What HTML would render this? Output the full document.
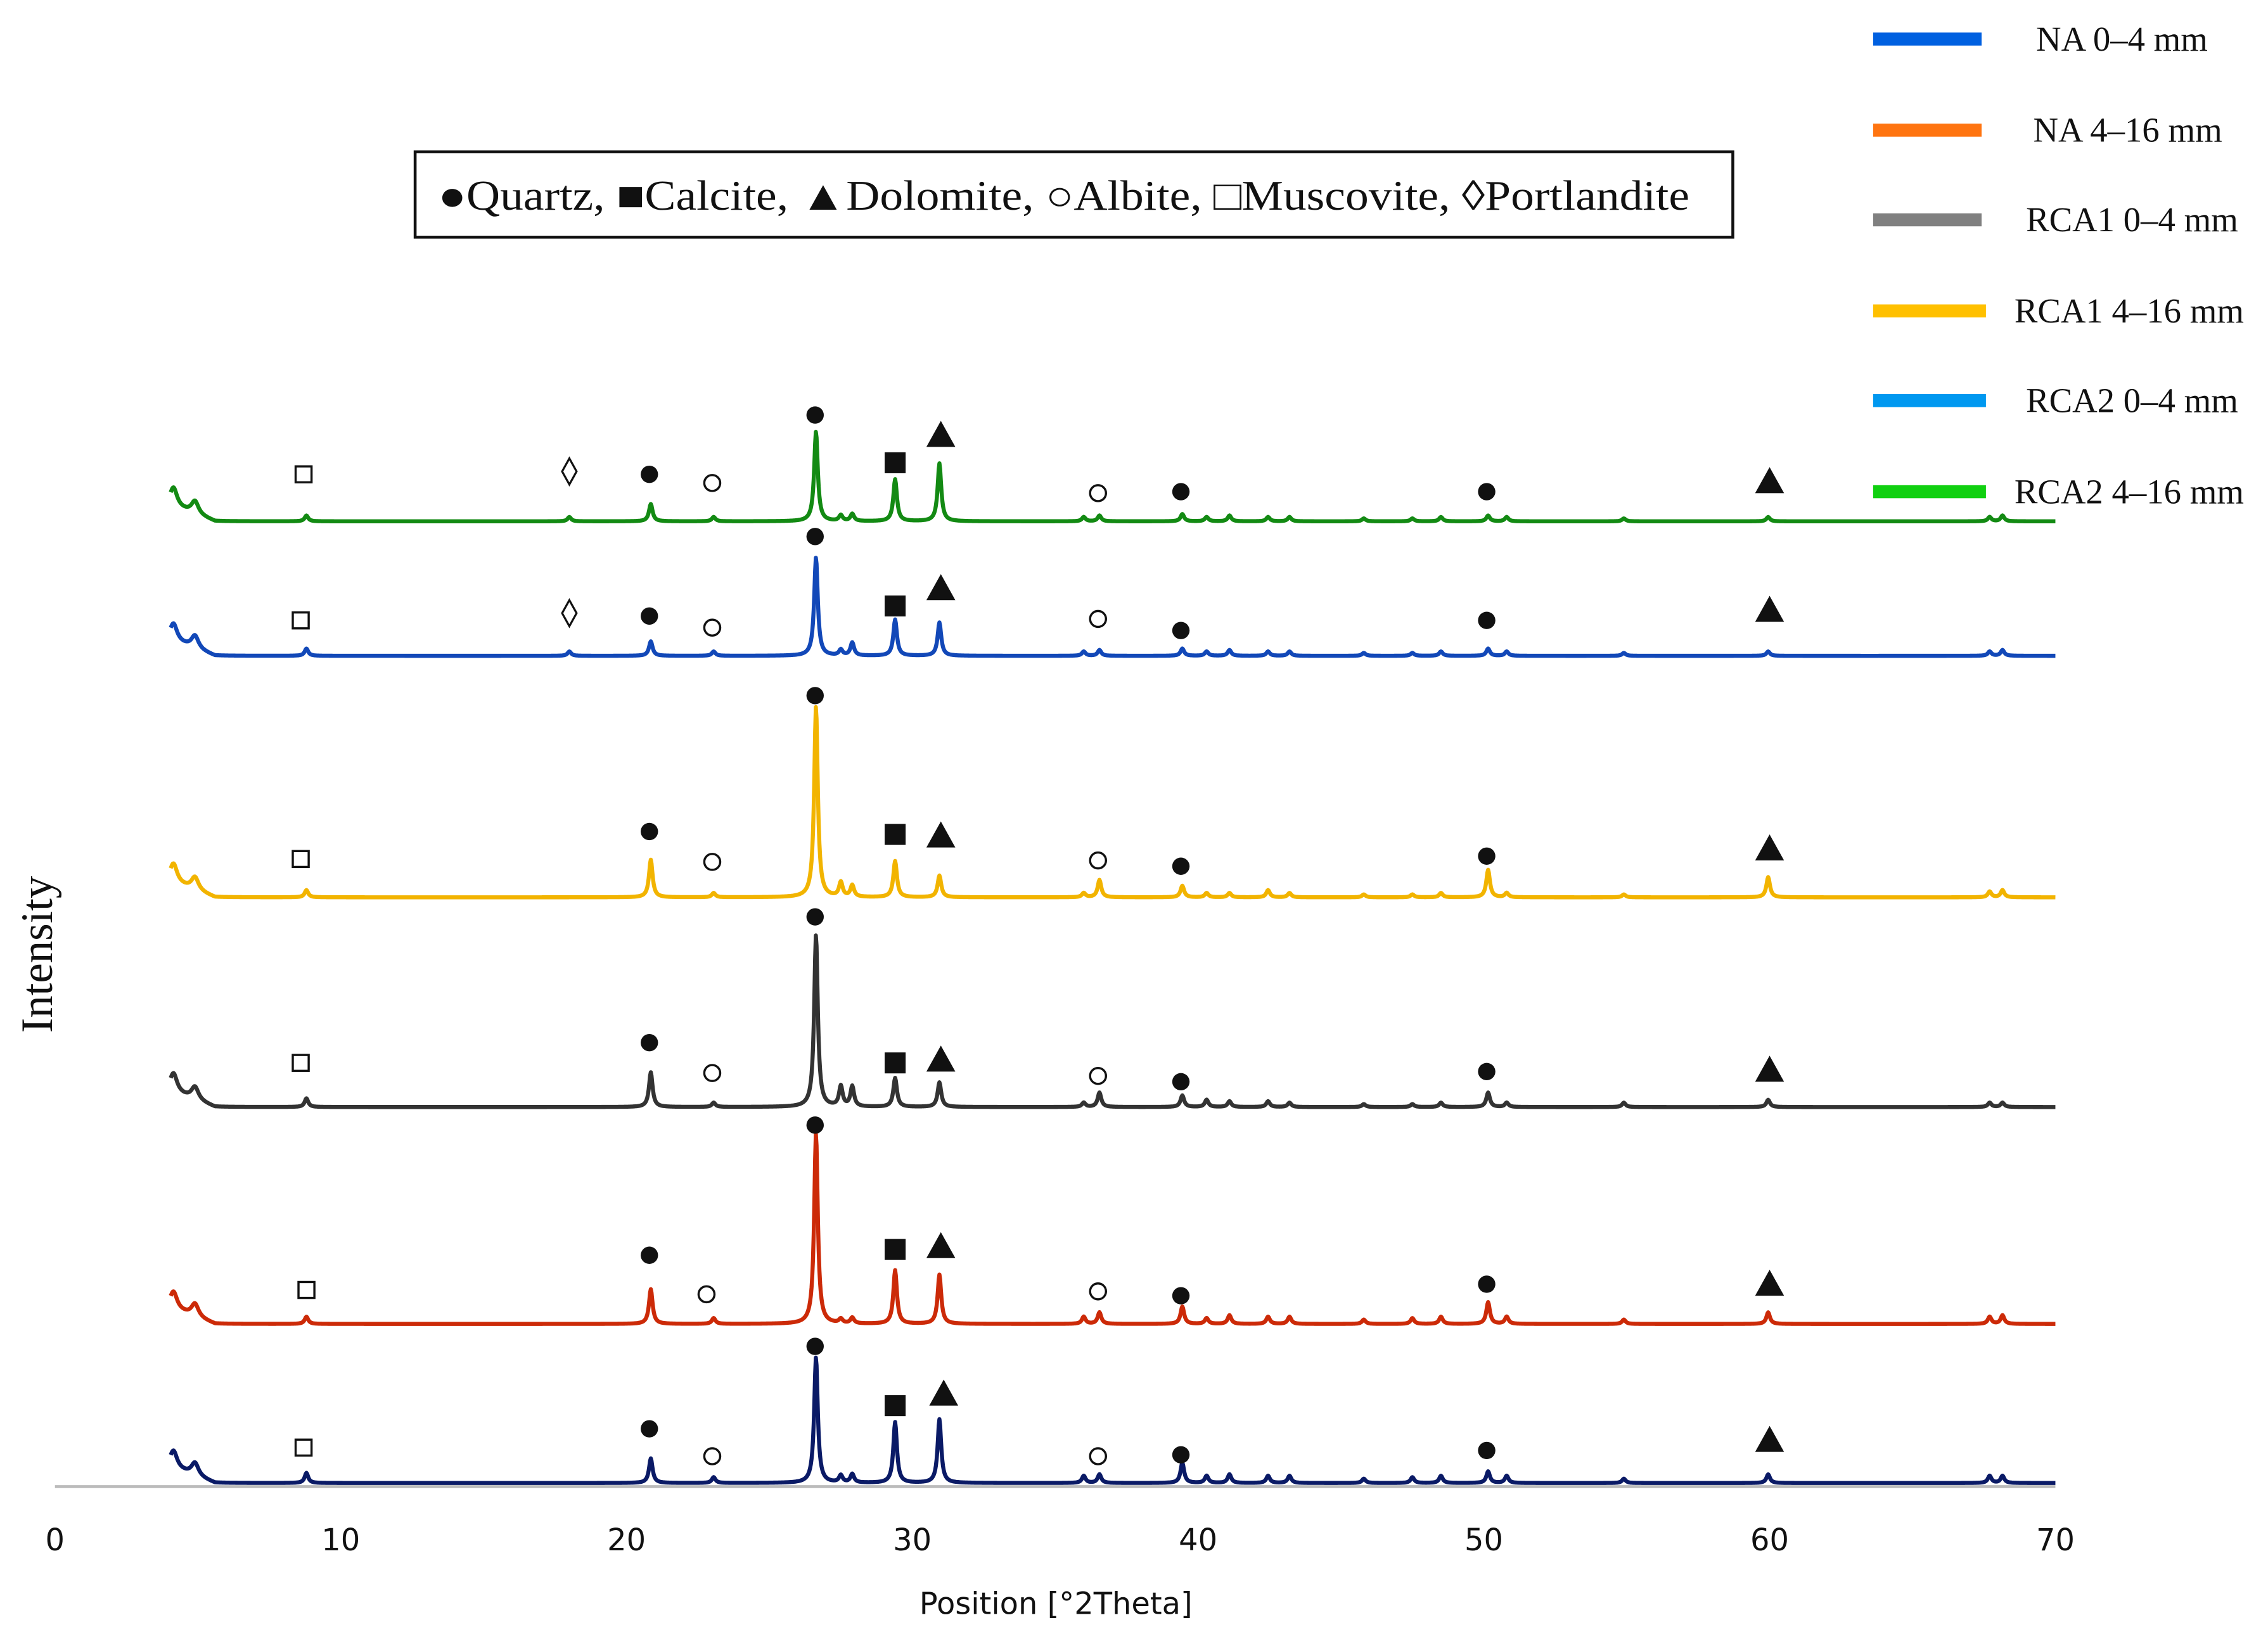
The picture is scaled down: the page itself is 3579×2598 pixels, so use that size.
<!DOCTYPE html>
<html><head><meta charset="utf-8"><style>html,body{margin:0;padding:0;background:#fff}svg{display:block}</style></head>
<body>
<svg id="chart" xmlns="http://www.w3.org/2000/svg" width="3579" height="2598" viewBox="0 0 1568 1138.2">
<rect width="1568" height="1138.2" fill="#fff"/>
<line x1="38" y1="1028" x2="1421" y2="1028" stroke="#bbb" stroke-width="2"/>
<g id="traces"></g>
<g id="markers"></g>
<g id="xticks" font-family="'DejaVu Sans', 'Liberation Sans', sans-serif" font-size="21" fill="#111" text-anchor="middle"></g>
<text x="730" y="1116" font-family="'DejaVu Sans', 'Liberation Sans', sans-serif" font-size="21" text-anchor="middle" fill="#111">Position [°2Theta]</text>
<text transform="translate(36,660) rotate(-90)" font-family="'Liberation Serif', serif" font-size="31" text-anchor="middle" fill="#111">Intensity</text>
<g>
<rect x="287" y="105" width="911" height="59" fill="#fff" stroke="#111" stroke-width="2"/>
<text x="303" y="145" textLength="865" lengthAdjust="spacingAndGlyphs" font-family="'Liberation Serif', 'DejaVu Serif', serif" font-size="29" fill="#111">●Quartz, ■Calcite, ▲Dolomite, ○Albite, □Muscovite, ◊Portlandite</text>
</g>
<g id="legend" font-family="'Liberation Serif', serif" font-size="24" fill="#111" text-anchor="middle"></g>
</svg>
<script>
const NS='http://www.w3.org/2000/svg';
const seriesNames=['NA 0–4 mm','NA 4–16 mm','RCA1 0–4 mm','RCA1 4–16 mm','RCA2 0–4 mm','RCA2 4–16 mm'];
const peakPositions=[4.15,4.9,8.8,18.0,20.85,23.05,26.63,27.5,27.9,29.4,30.95,36.0,36.55,39.45,40.3,41.1,42.45,43.2,45.8,47.5,48.5,50.15,50.8,54.9,59.95,67.7,68.15];
const heightsNA04 =[12,9,7,0,17,4,87,5,6,42,44,5,6,14,5,6,5,5,3,4,5,8,5,3,6,5,5];
const heightsNA416=[12,9,5,0,24,4,132,3,4,37,34,5,8,12,4,6,5,5,3,4,5,15,5,3,8,5,6];
const heightsRCA104=[13,9,6,0,24,3,119,14,14,20,17,3,10,8,5,4,4,3,2,2,3,10,3,3,5,3,3];
const heightsRCA1416=[13,9,5,0,26,3,132,10,8,25,15,3,12,8,3,3,5,3,2,2,3,19,3,2,14,4,5];
const heightsRCA204=[12,9,5,3,10,3,68,4,9,25,23,3,4,5,3,4,3,3,2,2,3,5,3,2,3,3,4];
const heightsRCA2416=[13,9,4,3,12,3,62,4,5,29,40,3,4,5,3,4,3,3,2,2,3,4,3,2,3,3,4];
const seriesHeights=[heightsNA04,heightsNA416,heightsRCA104,heightsRCA1416,heightsRCA204,heightsRCA2416];
const baselines=[1027,917,767,622,455,362];
const traceColors=['#0a1a66','#cc2a08','#333333','#f2b400','#1248b8','#138a13'];
const swatchColors=['#0060e0','#ff7410','#808080','#ffc000','#0098f0','#10d010'];
const xTicks=[0,10,20,30,40,50,60,70];
const markerSeries=[0,0,0,0,0,0,0,0,0,0, 1,1,1,1,1,1,1,1,1,1, 2,2,2,2,2,2,2,2,2,2, 3,3,3,3,3,3,3,3,3,3, 4,4,4,4,4,4,4,4,4,4,4, 5,5,5,5,5,5,5,5,5,5,5];
const markerTheta=[8.7,20.8,23,26.6,29.4,31.1,36.5,39.4,50.1,60, 8.8,20.8,22.8,26.6,29.4,31,36.5,39.4,50.1,60, 8.6,20.8,23,26.6,29.4,31,36.5,39.4,50.1,60, 8.6,20.8,23,26.6,29.4,31,36.5,39.4,50.1,60, 8.6,18,20.8,23,26.6,29.4,31,36.5,39.4,50.1,60, 8.7,18,20.8,23,26.6,29.4,31,36.5,39.4,50.1,60];
const markerLevel=[26,39,20,96,55,64,20,21,24,32, 25,49,22,139,53,56,24,21,29,30, 32,46,25,133,32,35,23,19,26,28, 28,47,26,141,45,45,27,23,30,36, 26,31,29,21,84,36,49,27,19,26,34, 34,36,34,28,75,42,62,21,22,22,30];
const markerType=['sq','qz','ab','qz','ca','do','ab','qz','qz','do', 'sq','qz','ab','qz','ca','do','ab','qz','qz','do', 'sq','qz','ab','qz','ca','do','ab','qz','qz','do', 'sq','qz','ab','qz','ca','do','ab','qz','qz','do', 'sq','po','qz','ab','qz','ca','do','ab','qz','qz','do', 'sq','po','qz','ab','qz','ca','do','ab','qz','qz','do'];

const X0=38,X1=1421;
const xs=v=>X0+(v/70)*(X1-X0);
function intensity(h,t){let s=0;for(let i=0;i<peakPositions.length;i++){if(!h[i])continue;const w=i<2?0.15:0.075;const d=(t-peakPositions[i])/w;s+=h[i]/(1+d*d);}return s;}
const gT=document.getElementById('traces');
for(let k=0;k<seriesNames.length;k++){
  let d='';
  for(let t=4.05;t<=70.0001;t+=0.025){const bg=t<5.6?(5.6-t)*7:0;const y=baselines[k]-intensity(seriesHeights[k],t)-bg-1.5;d+=(d?'L':'M')+xs(t).toFixed(2)+' '+y.toFixed(2);}
  const p=document.createElementNS(NS,'path');
  
  
  p.setAttribute('d',d);p.setAttribute('fill','none');p.setAttribute('stroke',traceColors[k]);p.setAttribute('stroke-width','2.8');p.setAttribute('stroke-linejoin','round');
  gT.appendChild(p);
}
const gM=document.getElementById('markers');
for(let i=0;i<markerTheta.length;i++){
  const cx=xs(markerTheta[i]),cy=baselines[markerSeries[i]]-markerLevel[i],ty=markerType[i];let e;
  if(ty==='qz'||ty==='ab'){e=document.createElementNS(NS,'circle');e.setAttribute('cx',cx);e.setAttribute('cy',cy);e.setAttribute('r',ty==='qz'?6:5.5);e.setAttribute('fill',ty==='qz'?'#111':'#fff');e.setAttribute('stroke','#111');e.setAttribute('stroke-width',ty==='qz'?0:1.5);}
  else if(ty==='ca'||ty==='sq'){e=document.createElementNS(NS,'rect');const s=ty==='ca'?13:11;e.setAttribute('x',cx-s/2);e.setAttribute('y',cy-s/2);e.setAttribute('width',s);e.setAttribute('height',s);e.setAttribute('fill',ty==='ca'?'#111':'#fff');e.setAttribute('stroke','#111');e.setAttribute('stroke-width',1.5);}
  else if(ty==='do'){e=document.createElementNS(NS,'polygon');e.setAttribute('points',`${cx-10},${cy+9} ${cx+10},${cy+9} ${cx},${cy-9}`);e.setAttribute('fill','#111');}
  else {e=document.createElementNS(NS,'polygon');e.setAttribute('points',`${cx},${cy-9} ${cx+5},${cy} ${cx},${cy+9} ${cx-5},${cy}`);e.setAttribute('fill','#fff');e.setAttribute('stroke','#111');e.setAttribute('stroke-width',1.4);}
  
  
  gM.appendChild(e);
}
const gX=document.getElementById('xticks');
for(const v of xTicks){const t=document.createElementNS(NS,'text');t.setAttribute('x',xs(v));t.setAttribute('y',1072);t.textContent=v;
  
  
  gX.appendChild(t);}
const gL=document.getElementById('legend');
const legendY=[27,90,152,215,277,340],legendCx=[1467,1471,1474,1472,1474,1472];
for(let k=0;k<seriesNames.length;k++){
  const r=document.createElementNS(NS,'rect');r.setAttribute('x',1295);r.setAttribute('y',legendY[k]-4.5);r.setAttribute('width',k>=3?78:75);r.setAttribute('height',9);r.setAttribute('fill',swatchColors[k]);
  
  
  gL.appendChild(r);
  const t=document.createElementNS(NS,'text');t.setAttribute('x',legendCx[k]);t.setAttribute('y',legendY[k]+8);t.textContent=seriesNames[k];
  
  
  gL.appendChild(t);
}
</script>
</body></html>
